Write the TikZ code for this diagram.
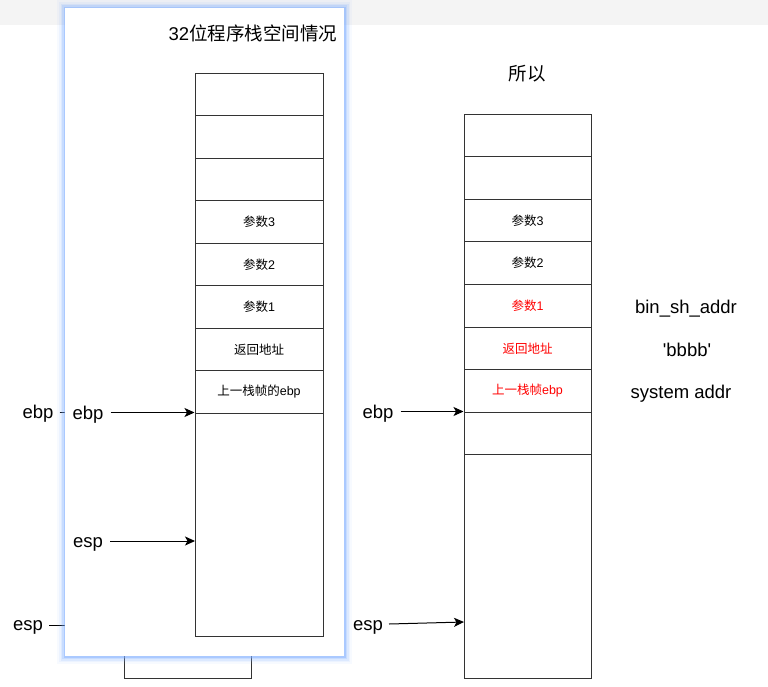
\documentclass[tikz,border=0pt]{standalone}
\usepackage{fontspec}
\setmainfont{Liberation Sans}
\newfontfamily\cjk{Noto Sans CJK SC}
\newfontfamily\nomap{Liberation Sans}[Ligatures=TeXOff]
\usetikzlibrary{arrows.meta}
\definecolor{bandgrey}{HTML}{F4F4F4}
\definecolor{glowblue}{HTML}{7FAEFF}
\definecolor{linegrey}{HTML}{333333}
\tikzset{
  cell/.style={draw=linegrey, line width=1pt, minimum width=128pt, inner sep=0pt,
    font=\fontsize{12.5}{14}\selectfont},
  lbl/.style={font=\fontsize{18.5}{21}\selectfont, inner sep=0pt},
  ptr/.style={-{Stealth[length=10pt,width=9pt,inset=2.5pt]}, line width=1pt, draw=black},
  plain/.style={line width=1pt, draw=black},
  redtxt/.style={text=red}
}
\begin{document}
\begin{tikzpicture}[x=1pt,y=-1pt]
\useasboundingbox (0,0) rectangle (768,686);
\fill[white] (0,0) rectangle (768,686);
\fill[bandgrey] (0,0) rectangle (768,25);

% box partly hidden behind the panel
\node[cell, minimum width=127pt, minimum height=80pt] (hidden) at (187.5,638) {};

% outer pointers (their ends disappear under the panel)
\node[lbl] (ebpO) at (38,414) {ebp};
\node[lbl] (espO) at (28,627) {esp};
\coordinate (ebpOend) at (120,412);
\coordinate (espOend) at (120,625);
\draw[plain] ([xshift=6pt]ebpO.east |- ebpOend) -- (ebpOend);
\draw[plain] ([xshift=6pt]espO.east |- espOend) -- (espOend);

% panel with blue glow
\foreach \w/\o in {16/0.06, 12/0.09, 9/0.14, 6/0.22, 3/0.4}
  \draw[line width=\w pt, glowblue, opacity=\o] (65,8) rectangle (344,656);
\fill[white] (65,8) rectangle (344,656);

\node[lbl] (title) at (253,33) {32{\cjk 位程序栈空间情况}};

% left stack
\node[cell, minimum height=42.5pt] (l1) at (259,94.25) {};
\node[cell, minimum height=42.5pt] (l2) at (259,136.75) {};
\node[cell, minimum height=42.5pt] (l3) at (259,179.25) {};
\node[cell, minimum height=42.5pt] (l4) at (259,221.75) {{\cjk 参数}3};
\node[cell, minimum height=42.5pt] (l5) at (259,264.25) {{\cjk 参数}2};
\node[cell, minimum height=42.5pt] (l6) at (259,306.75) {{\cjk 参数}1};
\node[cell, minimum height=42.5pt] (l7) at (259,349.25) {{\cjk 返回地址}};
\node[cell, minimum height=42.5pt] (l8) at (259,391.75) {{\cjk 上一栈帧的}ebp};
\node[cell, minimum height=223pt] (lbig) at (259,524.5) {};

\node[lbl] (ebpL) at (88,415) {ebp};
\node[lbl] (espL) at (88,544) {esp};
\draw[ptr] ([xshift=7pt]ebpL.east |- lbig.north west) -- (lbig.north west);
\coordinate (espLend) at (195,541);
\draw[ptr] ([xshift=7pt]espL.east |- espLend) -- (espLend);

% right stack
\node[lbl] (sothen) at (527,74) {\cjk 所以};
\node[cell, minimum width=127pt, minimum height=42.6pt] (r1) at (527.5,135.3) {};
\node[cell, minimum width=127pt, minimum height=42.6pt] (r2) at (527.5,177.9) {};
\node[cell, minimum width=127pt, minimum height=42.6pt] (r3) at (527.5,220.5) {{\cjk 参数}3};
\node[cell, minimum width=127pt, minimum height=42.6pt] (r4) at (527.5,263.1) {{\cjk 参数}2};
\node[cell, minimum width=127pt, minimum height=42.6pt, redtxt] (r5) at (527.5,305.7) {{\cjk 参数}1};
\node[cell, minimum width=127pt, minimum height=42.6pt, redtxt] (r6) at (527.5,348.3) {{\cjk 返回地址}};
\node[cell, minimum width=127pt, minimum height=42.6pt, redtxt] (r7) at (527.5,390.9) {{\cjk 上一栈帧}ebp};
\node[cell, minimum width=127pt, minimum height=42pt] (r8) at (527.5,433) {};
\node[cell, minimum width=127pt, minimum height=224pt] (rbig) at (527.5,566) {};

\node[lbl] (ebpR) at (378,414) {ebp};
\node[lbl] (espR) at (368,627) {esp};
\coordinate (espRstart) at (389,624);
\coordinate (espRend) at (464,622);
\draw[ptr] ([xshift=7pt]ebpR.east |- r8.north west) -- (r8.north west);
\draw[ptr] (espRstart) -- (espRend);

\node[lbl] (binsh) at (686,309) {bin\_sh\_addr};
\node[lbl] (bbbb) at (687,350) {\nomap 'bbbb'};
\node[lbl] (sysaddr) at (681,394) {system addr};
\end{tikzpicture}
\end{document}
